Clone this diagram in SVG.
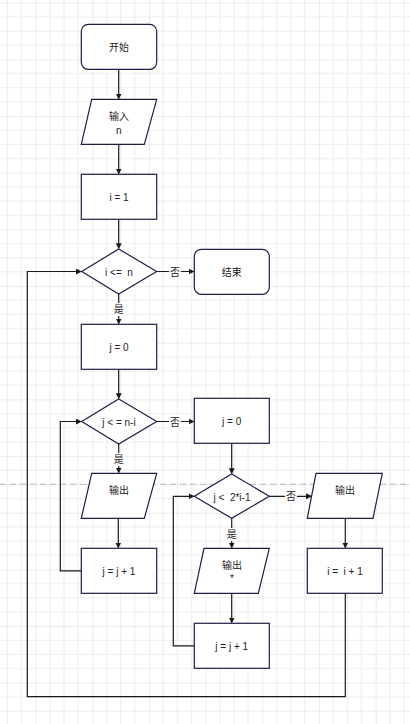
<svg xmlns="http://www.w3.org/2000/svg" width="410" height="724" viewBox="0 0 410 724">
<defs>
<pattern id="grid" patternUnits="userSpaceOnUse" x="35.7" y="2.7" width="56.67" height="56.67">
<path d="M14.17 0V56.67M28.33 0V56.67M42.5 0V56.67M0 14.17H56.67M0 28.33H56.67M0 42.5H56.67" stroke="#ececec" stroke-width="1" fill="none"/>
<path d="M0 0V56.67M0 0H56.67" stroke="#d9d9d9" stroke-width="1" fill="none"/>
</pattern>
<marker id="arr" markerWidth="6" markerHeight="6" refX="5" refY="3" orient="auto" markerUnits="userSpaceOnUse">
<path d="M0 0L6 3L0 6Z" fill="#1a1a1a"/>
</marker>
<style>
.n{fill:#fff;stroke:#1c1f45;stroke-width:1.2}
.t{font-family:"Liberation Sans","Noto Sans CJK SC",sans-serif;font-size:10px;fill:#222;text-anchor:middle;dominant-baseline:central;white-space:pre}
.c{fill:none;stroke:#1a1a1a;stroke-width:1.2}
.lb{fill:#fff}
</style>
</defs>
<rect width="410" height="724" fill="#fff"/>
<rect width="410" height="724" fill="url(#grid)"/>
<line x1="0" y1="484.3" x2="410" y2="484.3" stroke="#bbb" stroke-width="1" stroke-dasharray="6,4"/>

<g id="connectors">
<path class="c" d="M118.7 69.3V98.5" marker-end="url(#arr)"/>
<path class="c" d="M118.7 144.3V173.5" marker-end="url(#arr)"/>
<path class="c" d="M118.7 219.3V248.2" marker-end="url(#arr)"/>
<path class="c" d="M156.7 271.5H193.5" marker-end="url(#arr)"/>
<path class="c" d="M118.7 294V323.5" marker-end="url(#arr)"/>
<path class="c" d="M118.7 369.3V398.2" marker-end="url(#arr)"/>
<path class="c" d="M118.7 444V472.5" marker-end="url(#arr)"/>
<path class="c" d="M156.7 421.5H193.5" marker-end="url(#arr)"/>
<path class="c" d="M118.3 518.3V547.5" marker-end="url(#arr)"/>
<path class="c" d="M81.3 570.8H60.3V421.5H80.9" marker-end="url(#arr)"/>
<path class="c" d="M231.7 443.3V473.2" marker-end="url(#arr)"/>
<path class="c" d="M231.7 518.3V547.5" marker-end="url(#arr)"/>
<path class="c" d="M269.3 496.3H311" marker-end="url(#arr)"/>
<path class="c" d="M231.7 593.3V622.5" marker-end="url(#arr)"/>
<path class="c" d="M194.3 645.8H173.3V496.3H193.5" marker-end="url(#arr)"/>
<path class="c" d="M345.3 518.3V547.5" marker-end="url(#arr)"/>
<path class="c" d="M345.3 593.3V696.7H27.3V271.5H80.9" marker-end="url(#arr)"/>
<rect class="lb" x="169" y="265" width="12" height="13"/>
<text class="t" x="175" y="272">否</text>
<rect class="lb" x="112.7" y="303" width="12" height="13"/>
<text class="t" x="118.7" y="309.5">是</text>
<rect class="lb" x="169" y="415" width="12" height="13"/>
<text class="t" x="175" y="422">否</text>
<rect class="lb" x="112.7" y="453" width="12" height="13"/>
<text class="t" x="118.7" y="459.5">是</text>
<rect class="lb" x="285" y="490" width="12" height="13"/>
<text class="t" x="291" y="496.5">否</text>
<rect class="lb" x="225.7" y="528" width="12" height="13"/>
<text class="t" x="231.7" y="534.5">是</text>
</g>

<g id="start"><rect class="n" x="81.3" y="24.3" width="75.4" height="45" rx="7"/><text class="t" x="119" y="47">开始</text></g>
<g id="input"><polygon class="n" points="91.7,99.3 156.7,99.3 144.3,144.3 81.3,144.3"/><text class="t" x="119" y="116">输入</text><text class="t" x="118.7" y="130">n</text></g>
<g id="init-i"><rect class="n" x="81.3" y="174.3" width="75.4" height="45"/><text class="t" x="119" y="197">i = 1</text></g>
<g id="cond-i"><polygon class="n" points="118.7,249 156.7,271.5 118.7,294 81.7,271.5"/><text class="t" x="119" y="272" xml:space="preserve">i &lt;=  n</text></g>
<g id="end"><rect class="n" x="194.3" y="249.3" width="75" height="45" rx="7"/><text class="t" x="231.7" y="272">结束</text></g>
<g id="init-j1"><rect class="n" x="81.3" y="324.3" width="75.4" height="45"/><text class="t" x="119" y="347">j = 0</text></g>
<g id="cond-j1"><polygon class="n" points="118.7,399 156.7,421.5 118.7,444 81.7,421.5"/><text class="t" x="119" y="422">j &lt; = n-i</text></g>
<g id="out-space"><polygon class="n" points="91.7,473.3 156.7,473.3 144.3,518.3 81.3,518.3"/><text class="t" x="119" y="490">输出</text></g>
<g id="inc-j1"><rect class="n" x="81.3" y="548.3" width="75.4" height="45"/><text class="t" x="119" y="571">j = j + 1</text></g>
<g id="init-j2"><rect class="n" x="194.3" y="398.3" width="75" height="45"/><text class="t" x="231.7" y="421">j = 0</text></g>
<g id="cond-j2"><polygon class="n" points="231.7,474 269.3,496.3 231.7,518.3 194.3,496.3"/><text class="t" x="232" y="497" xml:space="preserve">j &lt;  2*i-1</text></g>
<g id="out-star"><polygon class="n" points="204,548.3 269.3,548.3 258.3,593.3 194.3,593.3"/><text class="t" x="232" y="565">输出</text><text class="t" x="232" y="578">*</text></g>
<g id="inc-j2"><rect class="n" x="194.3" y="623.3" width="75" height="45"/><text class="t" x="231.7" y="646">j = j + 1</text></g>
<g id="out-newline"><polygon class="n" points="316,473.3 382.3,473.3 373,518.3 307.3,518.3"/><text class="t" x="345" y="490">输出</text></g>
<g id="inc-i"><rect class="n" x="307.3" y="548.3" width="75" height="45"/><text class="t" x="345" y="571" xml:space="preserve">i =  i + 1</text></g>
</svg>
